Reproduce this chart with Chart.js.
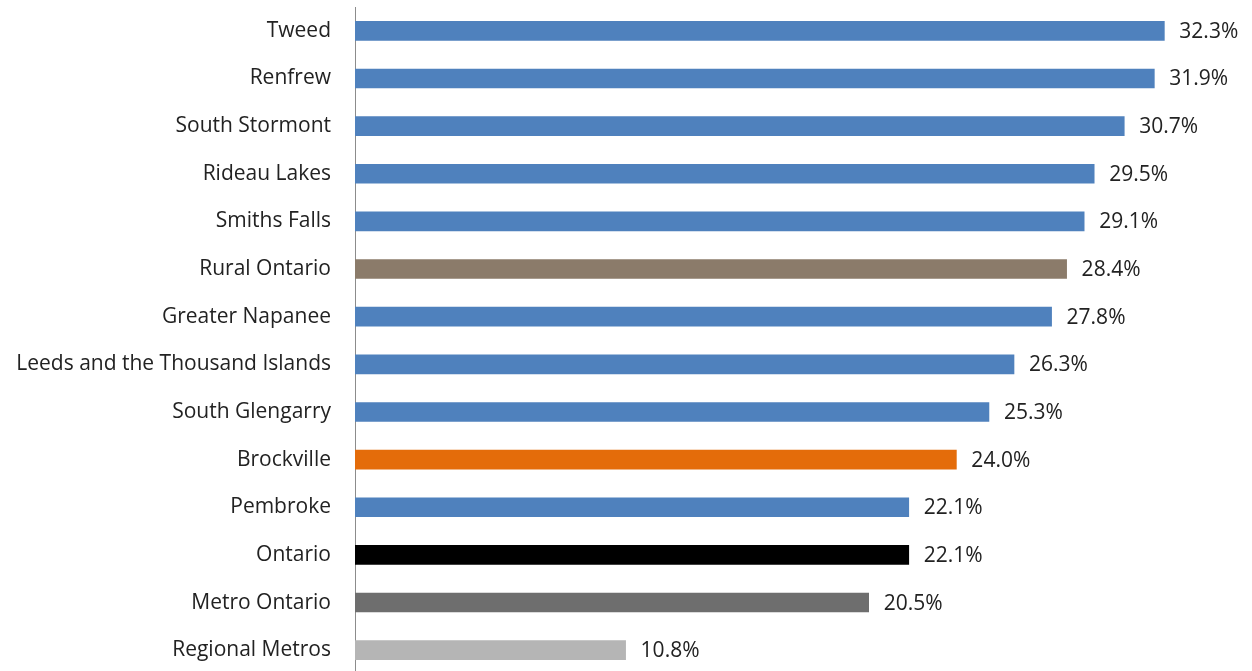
<!DOCTYPE html>
<html>
<head>
<meta charset="utf-8">
<script src="https://cdn.jsdelivr.net/npm/chart.js@4"></script>
<style>
html,body{margin:0;padding:0;background:#fff;overflow:hidden;}
canvas{display:block;}
</style>
</head>
<body>
<canvas id="c" width="1252" height="674" style="width:1252px;height:674px"></canvas>
<script>
const categories = ["Tweed","Renfrew","South Stormont","Rideau Lakes","Smiths Falls","Rural Ontario","Greater Napanee","Leeds and the Thousand Islands","South Glengarry","Brockville","Pembroke","Ontario","Metro Ontario","Regional Metros"];
const values = [32.3,31.9,30.7,29.5,29.1,28.4,27.8,26.3,25.3,24.0,22.1,22.1,20.5,10.8];
const barColors = ["#4F81BD","#4F81BD","#4F81BD","#4F81BD","#4F81BD","#8B7B6A","#4F81BD","#4F81BD","#4F81BD","#E46C0A","#4F81BD","#000000","#6E6E6E","#B5B5B5"];

const FONT = "'Open Sans', Lato, sans-serif";

const valueLabels = {
  id: 'valueLabels',
  afterDatasetsDraw(chart) {
    const ctx = chart.ctx;
    const meta = chart.getDatasetMeta(0);
    ctx.save();
    ctx.font = "21px " + FONT;
    ctx.fillStyle = "#222";
    ctx.textAlign = "left";
    ctx.textBaseline = "middle";
    meta.data.forEach((bar, i) => {
      ctx.fillText(values[i].toFixed(1) + "%", bar.x + 15, bar.y + 1);
    });
    ctx.restore();
  }
};

new Chart(document.getElementById('c'), {
  type: 'bar',
  data: {
    labels: categories,
    datasets: [{
      data: values,
      backgroundColor: barColors,
      borderWidth: 0,
      barThickness: 19
    }]
  },
  options: {
    indexAxis: 'y',
    responsive: false,
    maintainAspectRatio: false,
    devicePixelRatio: 1,
    animation: false,
    layout: { padding: { top: 7, right: 20, bottom: 0, left: 0 } },
    plugins: { legend: { display: false }, tooltip: { enabled: false } },
    scales: {
      x: {
        min: 0, max: 35,
        display: false
      },
      y: {
        afterFit(scale) { scale.width = 355; scale.paddingTop = 0; scale.paddingBottom = 0; },
        grid: { display: false, drawTicks: false },
        border: { display: true, color: '#8c8c8c', width: 1 },
        ticks: {
          padding: 24,
          color: '#222',
          font: { family: FONT, size: 21 }
        }
      }
    }
  },
  plugins: [valueLabels]
});
</script>
</body>
</html>
